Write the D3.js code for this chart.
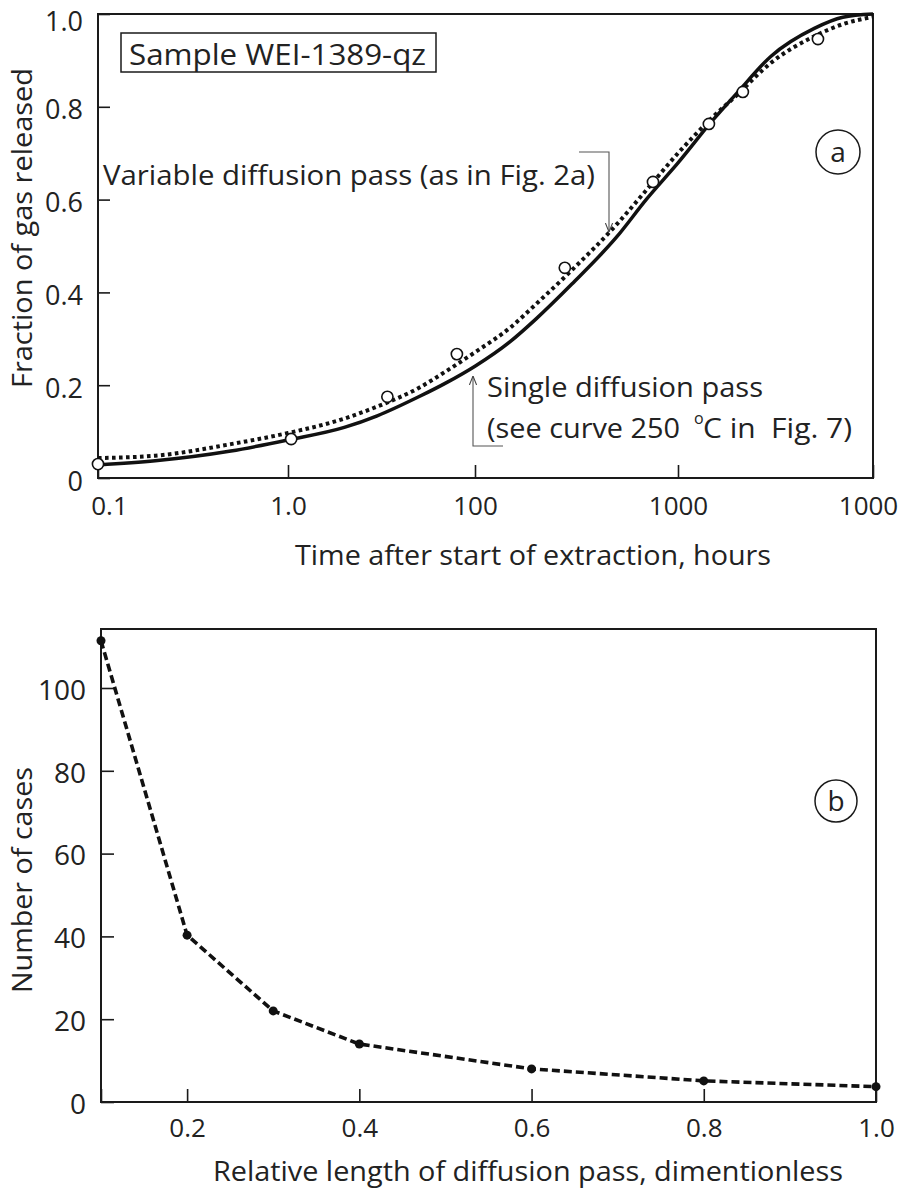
<!DOCTYPE html>
<html>
<head>
<meta charset="utf-8">
<script src="https://cdn.jsdelivr.net/npm/d3@7"></script>
<style>
  body { margin: 0; background: #fff; }
  svg text { font-family: "Open Sans", "Noto Sans", sans-serif; fill: #222; white-space: pre; }
</style>
</head>
<body>
<svg id="fig" width="905" height="1189"></svg>
<script>
// ---------- Panel (a): fraction of gas released vs. time ----------
const timeTicks = [0.1, 1, 10, 100, 1000];
const timeTickLabels = ["0.1", "1.0", "100", "1000", "1000"];
const fractionTicks = [0, 0.2, 0.4, 0.6, 0.8, 1.0];
const fractionTickLabels = ["0", "0.2", "0.4", "0.6", "0.8", "1.0"];

// model curves, hours
const curveTimes = [0.1, 0.2, 0.5, 1, 2, 3, 5, 7, 10, 15, 20, 30, 50, 70, 100, 150, 200, 300, 500, 700, 1000];
const singlePass = [0.028, 0.037, 0.058, 0.082, 0.109, 0.134, 0.175, 0.205, 0.241, 0.295, 0.343, 0.418,
                    0.520, 0.601, 0.679, 0.770, 0.829, 0.909, 0.969, 0.993, 1.000];
const variablePass = [0.043, 0.048, 0.073, 0.097, 0.128, 0.154, 0.194, 0.230, 0.271, 0.325, 0.375, 0.448,
                      0.547, 0.621, 0.700, 0.777, 0.825, 0.895, 0.952, 0.978, 0.994];

// measured release steps
const measuredTimes = [0.1, 1.04, 3.4, 8.0, 27.7, 75.3, 144, 215, 522];
const measuredFraction = [0.030, 0.084, 0.175, 0.267, 0.453, 0.638, 0.763, 0.832, 0.946];

// ---------- Panel (b): number of cases vs. relative pass length ----------
const passLength = [0.1, 0.2, 0.3, 0.4, 0.6, 0.8, 1.0];
const caseCount = [111.4, 40.3, 22.0, 14.0, 8.0, 5.1, 3.7];
const lengthTicks = [0.1, 0.2, 0.4, 0.6, 0.8, 1.0];
const lengthTickLabels = ["", "0.2", "0.4", "0.6", "0.8", "1.0"];
const caseTicks = [0, 20, 40, 60, 80, 100];

const svg = d3.select("#fig");
const ink = "#1a1a1a";

// ===== Panel (a) =====
const A = { left: 98, right: 873, top: 14, bottom: 478 };
// hand-ruled decades are not quite equal, so the log axis is piecewise
const xA = d3.scaleLog().domain(timeTicks).range([98, 288, 475, 678, 873]);
const yA = d3.scaleLinear().domain([0, 1]).range([A.bottom, A.top]);

const gA = svg.append("g");

// inward ticks + labels
const axLeftA = d3.axisLeft(yA).tickValues(fractionTicks)
  .tickSize(-12).tickPadding(15)
  .tickFormat((d, i) => fractionTickLabels[i]);
gA.append("g").attr("transform", `translate(${A.left},0)`).call(axLeftA)
  .call(g => g.select(".domain").remove())
  .call(g => g.selectAll("line").attr("stroke", ink).attr("stroke-width", 1.6))
  .call(g => g.selectAll("text").attr("font-size", 27).attr("dy", "0.45em").attr("fill", "#222").attr("font-family", null))
  .call(g => g.selectAll(".tick").filter(d => d === 1).select("text").attr("dy", "0.62em"));

const axBottomA = d3.axisBottom(xA).tickValues(timeTicks)
  .tickSize(-13).tickPadding(14)
  .tickFormat((d, i) => timeTickLabels[i]);
gA.append("g").attr("transform", `translate(0,${A.bottom})`).call(axBottomA)
  .call(g => g.select(".domain").remove())
  .call(g => g.selectAll("line").attr("stroke", ink).attr("stroke-width", 1.6))
  .call(g => g.selectAll("text").attr("font-size", 26).attr("dy", "0.9em").attr("fill", "#222").attr("font-family", null))
  .call(g => g.selectAll(".tick").filter((d, i) => i === 0).select("text").attr("dx", 11))
  .call(g => g.selectAll(".tick").filter((d, i) => i === timeTicks.length - 1).select("text").attr("dx", -5));

// frame
gA.append("rect").attr("x", A.left).attr("y", A.top)
  .attr("width", A.right - A.left).attr("height", A.bottom - A.top)
  .attr("fill", "none").attr("stroke", ink).attr("stroke-width", 2);

const lineA = d3.line()
  .x((d, i) => xA(curveTimes[i]))
  .y(d => yA(d))
  .curve(d3.curveMonotoneX);

gA.append("path").datum(singlePass).attr("d", lineA)
  .attr("fill", "none").attr("stroke", "#111").attr("stroke-width", 3.5);

gA.append("path").datum(variablePass).attr("d", lineA)
  .attr("fill", "none").attr("stroke", "#111").attr("stroke-width", 4)
  .attr("stroke-dasharray", "3.6 3.4");

gA.selectAll("circle.obs").data(measuredTimes).enter().append("circle")
  .attr("class", "obs")
  .attr("cx", d => xA(d))
  .attr("cy", (d, i) => yA(measuredFraction[i]))
  .attr("r", 5.6)
  .attr("fill", "#fff").attr("stroke", "#111").attr("stroke-width", 1.6);

// sample label box
gA.append("rect").attr("x", 121).attr("y", 33).attr("width", 315).attr("height", 39)
  .attr("fill", "#fff").attr("stroke", ink).attr("stroke-width", 1.5);
gA.append("text").attr("x", 129).attr("y", 65).attr("font-size", 29)
  .attr("textLength", 297).attr("lengthAdjust", "spacingAndGlyphs")
  .text("Sample WEI-1389-qz");

// panel letter
gA.append("circle").attr("cx", 838).attr("cy", 152).attr("r", 22)
  .attr("fill", "#fff").attr("stroke", ink).attr("stroke-width", 1.5);
gA.append("text").attr("x", 838).attr("y", 162).attr("text-anchor", "middle")
  .attr("font-size", 28).text("a");

// arrow marker for the leader lines
svg.append("defs").append("marker")
  .attr("id", "tip").attr("viewBox", "0 0 10 10").attr("refX", 10).attr("refY", 5)
  .attr("markerWidth", 9).attr("markerHeight", 9).attr("markerUnits", "userSpaceOnUse")
  .attr("orient", "auto")
  .append("path").attr("d", "M0,1 L10,5 L0,9").attr("fill", "none")
  .attr("stroke", "#444").attr("stroke-width", 1.2);

// annotation: variable pass
gA.append("text").attr("x", 103).attr("y", 185).attr("font-size", 27)
  .attr("textLength", 492).attr("lengthAdjust", "spacingAndGlyphs")
  .text("Variable diffusion pass (as in Fig. 2a)");
gA.append("path").attr("d", "M579,152 H609 V232")
  .attr("fill", "none").attr("stroke", "#555").attr("stroke-width", 1.1)
  .attr("marker-end", "url(#tip)");

// annotation: single pass
gA.append("text").attr("x", 487).attr("y", 397).attr("font-size", 27)
  .attr("textLength", 276).attr("lengthAdjust", "spacingAndGlyphs")
  .text("Single diffusion pass");
gA.append("text").attr("x", 487).attr("y", 438).attr("font-size", 27)
  .attr("textLength", 193).attr("lengthAdjust", "spacingAndGlyphs")
  .text("(see curve 250");
gA.append("text").attr("x", 694).attr("y", 424).attr("font-size", 16).text("o");
gA.append("text").attr("x", 703).attr("y", 438).attr("font-size", 27)
  .attr("textLength", 149).attr("lengthAdjust", "spacingAndGlyphs")
  .text("C in  Fig. 7)");
gA.append("path").attr("d", "M503,446 H473 V376")
  .attr("fill", "none").attr("stroke", "#555").attr("stroke-width", 1.1)
  .attr("marker-end", "url(#tip)");

// axis titles
gA.append("text").attr("x", 533).attr("y", 565).attr("text-anchor", "middle")
  .attr("font-size", 28).attr("textLength", 476).attr("lengthAdjust", "spacingAndGlyphs")
  .text("Time after start of extraction, hours");
gA.append("text").attr("transform", "translate(32,228) rotate(-90)")
  .attr("text-anchor", "middle").attr("font-size", 28)
  .attr("textLength", 320).attr("lengthAdjust", "spacingAndGlyphs")
  .text("Fraction of gas released");

// ===== Panel (b) =====
const B = { left: 101, right: 876, top: 629, bottom: 1102 };
const xB = d3.scaleLinear().domain([0.1, 1.0]).range([B.left, B.right]);
const yB = d3.scaleLinear().domain([0, 100]).range([B.bottom, 688]);

const gB = svg.append("g");

const axLeftB = d3.axisLeft(yB).tickValues(caseTicks)
  .tickSize(-13).tickPadding(15)
  .tickFormat(d => String(d));
gB.append("g").attr("transform", `translate(${B.left},0)`).call(axLeftB)
  .call(g => g.select(".domain").remove())
  .call(g => g.selectAll("line").attr("stroke", ink).attr("stroke-width", 1.6))
  .call(g => g.selectAll("text").attr("font-size", 28).attr("dy", "0.4em").attr("fill", "#222").attr("font-family", null));

const axBottomB = d3.axisBottom(xB).tickValues(lengthTicks)
  .tickSize(-13).tickPadding(12)
  .tickFormat((d, i) => lengthTickLabels[i]);
gB.append("g").attr("transform", `translate(0,${B.bottom})`).call(axBottomB)
  .call(g => g.select(".domain").remove())
  .call(g => g.selectAll("line").attr("stroke", ink).attr("stroke-width", 1.6))
  .call(g => g.selectAll("text").attr("font-size", 26).attr("dy", "0.9em").attr("fill", "#222").attr("font-family", null));

gB.append("rect").attr("x", B.left).attr("y", B.top)
  .attr("width", B.right - B.left).attr("height", B.bottom - B.top)
  .attr("fill", "none").attr("stroke", ink).attr("stroke-width", 2);

const lineB = d3.line()
  .x((d, i) => xB(passLength[i]))
  .y(d => yB(d));

gB.append("path").datum(caseCount).attr("d", lineB)
  .attr("fill", "none").attr("stroke", "#111").attr("stroke-width", 3.6)
  .attr("stroke-dasharray", "8 4");

gB.selectAll("circle.pt").data(passLength).enter().append("circle")
  .attr("class", "pt")
  .attr("cx", d => xB(d))
  .attr("cy", (d, i) => yB(caseCount[i]))
  .attr("r", 4.5).attr("fill", "#111");

gB.append("circle").attr("cx", 836).attr("cy", 801).attr("r", 21)
  .attr("fill", "#fff").attr("stroke", ink).attr("stroke-width", 1.5);
gB.append("text").attr("x", 836).attr("y", 811).attr("text-anchor", "middle")
  .attr("font-size", 28).text("b");

gB.append("text").attr("x", 528).attr("y", 1181).attr("text-anchor", "middle")
  .attr("font-size", 27).attr("textLength", 630).attr("lengthAdjust", "spacingAndGlyphs")
  .text("Relative length of diffusion pass, dimentionless");
gB.append("text").attr("transform", "translate(32,880) rotate(-90)")
  .attr("text-anchor", "middle").attr("font-size", 28)
  .attr("textLength", 226).attr("lengthAdjust", "spacingAndGlyphs")
  .text("Number of cases");
</script>
</body>
</html>
